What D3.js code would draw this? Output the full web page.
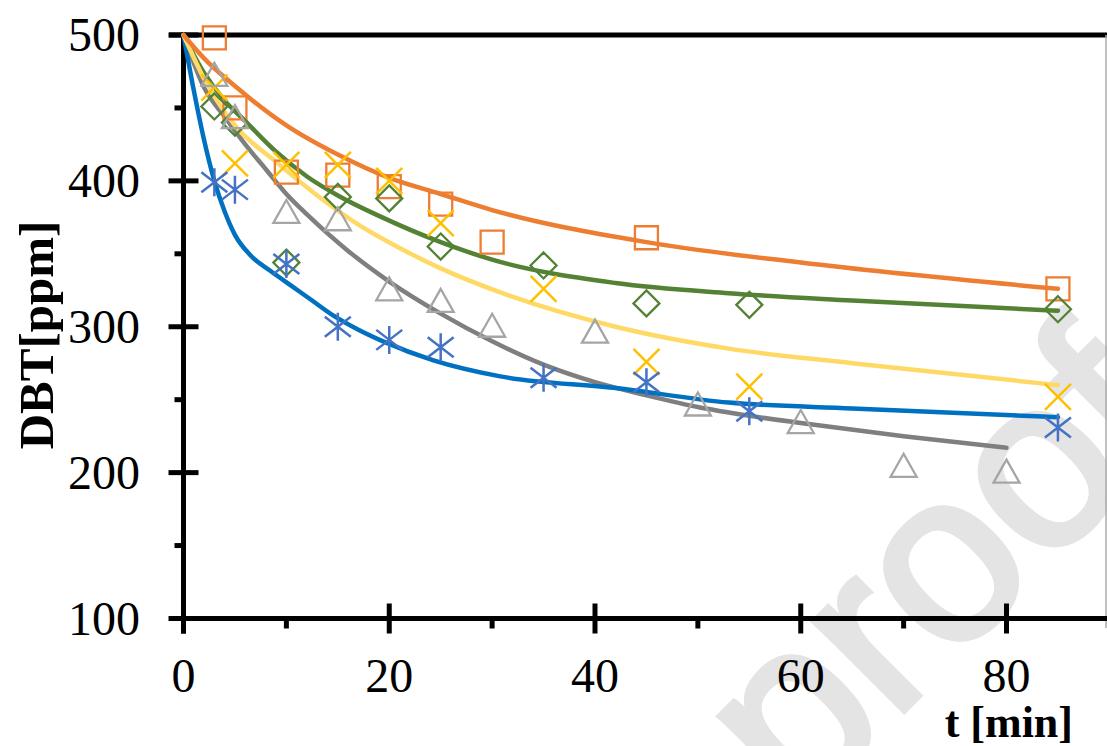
<!DOCTYPE html>
<html><head><meta charset="utf-8">
<script src="https://cdn.jsdelivr.net/npm/d3@7"></script>
<style>body{margin:0;background:#fff}svg{display:block}</style>
</head><body>
<svg id="c" width="1107" height="746"></svg>
<script>
// ---- axis ticks ----
const xTicks = [0, 20, 40, 60, 80];
const xMinor = [10, 30, 50, 70];
const yTicks = [100, 200, 300, 400, 500];
const yMinor = [150, 250, 350, 450];

// ---- measured points ----
const sqT = [3, 5, 10, 15, 20, 25, 30, 45, 85];
const sqV = [498, 450, 406, 404, 396, 384, 358, 361, 326];
const diT = [3, 5, 10, 15, 20, 25, 35, 45, 55, 85];
const diV = [451, 440, 344, 389, 388, 355, 342, 316, 315, 312];
const xmT = [3, 5, 10, 15, 20, 25, 35, 45, 55, 85];
const xmV = [464, 412, 411, 411, 400, 371, 326, 276, 259, 252];
const stT = [3, 5, 10, 15, 20, 25, 35, 45, 55, 85];
const stV = [399, 394, 343, 300, 291, 286, 265, 262, 242, 231];
const trT = [3, 5, 10, 15, 20, 25, 30, 40, 50, 60, 70, 80];
const trV = [472, 443, 378, 373, 325, 317, 300, 296, 246, 234, 204, 200];

// ---- fitted model curves ----
const orT = [0, 2, 5, 10, 15, 20, 25, 30, 45, 60, 85];
const orV = [500, 484, 465, 438, 418, 402, 391, 380, 358, 344, 326];
const grT = [0, 2, 4, 6, 9, 12, 15, 19, 25, 30, 42, 53, 65, 85];
const grV = [500, 474, 455, 441, 420, 403, 390, 376, 358, 346, 330, 323, 318, 311];
const yeT = [0, 2, 5, 9, 13, 17, 21, 25, 31, 42, 53, 65, 85];
const yeV = [500, 470, 438, 413, 390, 370, 354, 340, 323, 300, 285, 275, 260];
const blT = [0, 1, 2, 3, 4, 5, 6.5, 8.5, 10.5, 12.5, 14.5, 17, 19.4, 24.3, 30.8, 42, 53, 65, 85];
const blV = [500, 462, 428, 400, 379, 363, 349, 338, 328, 318, 308, 298, 290, 277, 266, 258, 248, 244, 238];
const gyT = [0, 2, 4, 6, 8, 10, 12, 14, 16, 20, 25, 30, 35, 40, 45, 50, 55, 60, 70, 80];
const gyV = [500, 464, 444, 425, 408, 391, 377, 364, 352, 331, 309, 290, 274, 262, 253, 245, 239, 234, 225, 217];

const svg = d3.select('#c');
const x = d3.scaleLinear().domain([0, 80]).range([183.5, 1006.5]);
const y = d3.scaleLinear().domain([100, 500]).range([618.5, 35]);
const X0 = x(0), Y0 = y(100), YT = y(500);

// watermark
svg.append('text').attr('transform', 'translate(1185,430) rotate(-45)')
  .attr('text-anchor', 'end').attr('font-family', 'Liberation Sans, Arial, sans-serif')
  .attr('font-size', 240).attr('fill', '#e4e4e4').attr('stroke', '#e4e4e4').attr('stroke-width', 6)
  .text('Journal Pre-proof');

const zip = (a, b) => a.map((t, i) => [t, b[i]]);
const line = d3.line().x(d => x(d[0])).y(d => y(d[1])).curve(d3.curveMonotoneX);

// axes frame
const g = svg.append('g');
g.append('line').attr('x1', 169).attr('x2', 1107).attr('y1', YT).attr('y2', YT).attr('stroke', '#000').attr('stroke-width', 5);
g.append('line').attr('x1', 1106).attr('x2', 1106).attr('y1', YT).attr('y2', 628).attr('stroke', '#aaa').attr('stroke-width', 1.5);
g.append('line').attr('x1', X0).attr('x2', X0).attr('y1', YT - 2.5).attr('y2', Y0 + 15).attr('stroke', '#000').attr('stroke-width', 5);
g.append('line').attr('x1', 169).attr('x2', 1107).attr('y1', Y0).attr('y2', Y0).attr('stroke', '#000').attr('stroke-width', 5);

// ticks
g.selectAll('.ytM').data(yTicks).join('line').attr('x1', X0 - 15).attr('x2', X0 + 15)
  .attr('y1', d => y(d)).attr('y2', d => y(d)).attr('stroke', '#000').attr('stroke-width', 5);
g.selectAll('.ytm').data(yMinor).join('line').attr('x1', X0 - 9).attr('x2', X0)
  .attr('y1', d => y(d)).attr('y2', d => y(d)).attr('stroke', '#000').attr('stroke-width', 5);
g.selectAll('.xtM').data(xTicks).join('line').attr('y1', Y0 - 15).attr('y2', Y0 + 15)
  .attr('x1', d => x(d)).attr('x2', d => x(d)).attr('stroke', '#000').attr('stroke-width', 5);
g.selectAll('.xtm').data(xMinor).join('line').attr('y1', Y0).attr('y2', Y0 + 10)
  .attr('x1', d => x(d)).attr('x2', d => x(d)).attr('stroke', '#000').attr('stroke-width', 5);

// tick labels
const serif = 'Liberation Serif, Times New Roman, serif';
g.selectAll('.yl').data(yTicks).join('text').attr('x', 140).attr('y', d => y(d) + 16)
  .attr('text-anchor', 'end').attr('font-family', serif).attr('font-size', 48).text(d => d);
g.selectAll('.xl').data(xTicks).join('text').attr('x', d => x(d)).attr('y', 692)
  .attr('text-anchor', 'middle').attr('font-family', serif).attr('font-size', 48).text(d => d);

// axis titles
svg.append('text').attr('x', 1073).attr('y', 737).attr('text-anchor', 'end')
  .attr('font-family', serif).attr('font-weight', 'bold').attr('font-size', 44).text('t [min]');
svg.append('text').attr('transform', 'translate(53,335) rotate(-90)').attr('text-anchor', 'middle')
  .attr('font-family', serif).attr('font-weight', 'bold').attr('font-size', 49).text('DBT[ppm]');

// curves
const curves = [
  [gyT, gyV, '#7F7F7F'],
  [blT, blV, '#0070C0'],
  [grT, grV, '#548235'],
  [yeT, yeV, '#FFD966'],
  [orT, orV, '#ED7D31']
];
curves.forEach(([t, v, c]) => {
  svg.append('path').attr('d', line(zip(t, v))).attr('fill', 'none')
    .attr('stroke', c).attr('stroke-width', 4.5).attr('stroke-linecap', 'round');
});

// markers
const mk = (t, v, path, color, w) => {
  svg.append('g').selectAll('path').data(zip(t, v)).join('path')
    .attr('transform', d => `translate(${x(d[0])},${y(d[1])})`)
    .attr('d', path).attr('fill', 'none').attr('stroke', color).attr('stroke-width', w);
};
mk(sqT, sqV, 'M-11.5,-11.5H11.5V11.5H-11.5Z', '#ED7D31', 2.3);
mk(diT, diV, 'M0,-13L13,0L0,13L-13,0Z', '#548235', 2.3);
mk(xmT, xmV, 'M-13,-13L13,13M-13,13L13,-13', '#FFC000', 2.5);
mk(stT, stV, 'M0,-14V14M-13,-10L13,10M-13,10L13,-10', '#4472C4', 2.5);
mk(trT, trV, 'M0,-13L13,10H-13Z', '#A5A5A5', 2.3);
</script>
</body></html>
